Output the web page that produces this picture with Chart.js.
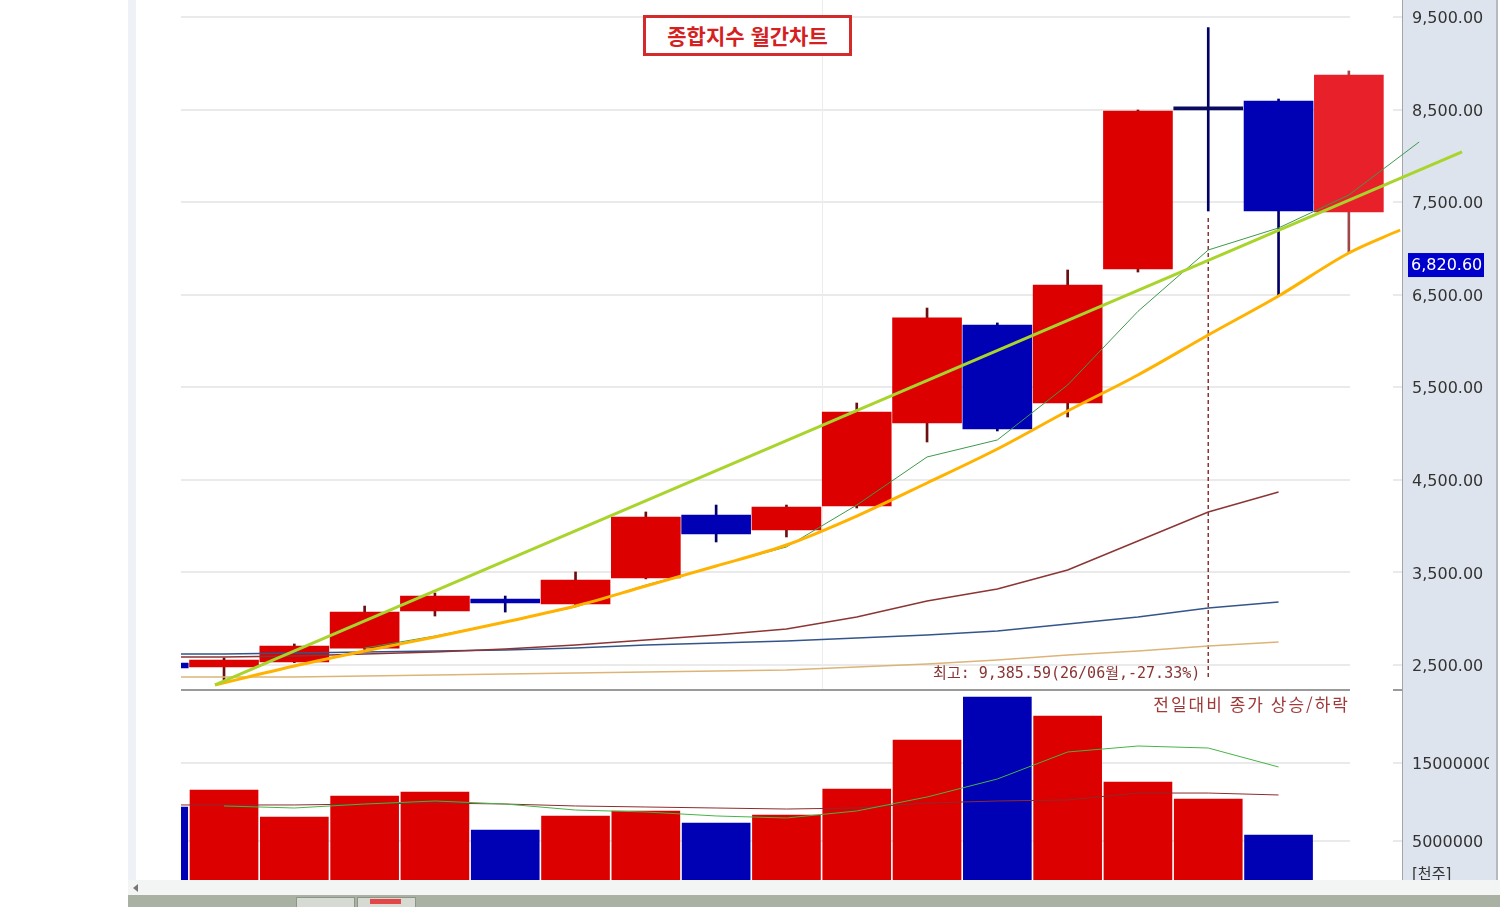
<!DOCTYPE html>
<html lang="ko">
<head>
  <meta charset="UTF-8" />
  <title>종합지수 월간차트</title>
  <script src="https://cdn.jsdelivr.net/npm/chart.js@4"></script>
  <style>
    body { margin: 0; background: #fff; }
    .tela { position: relative; width: 1508px; height: 907px; overflow: hidden; }
    .faixa-esq { position: absolute; left: 128px; top: 0; width: 8px; height: 880px; background: #eef1f5; }
    .painel-eixo {
      position: absolute; left: 1402px; top: 0; width: 93px; height: 880px;
      background: #dde4ed; border-left: 1px solid #a2a6aa; border-right: 2px solid #b6babe;
    }
    canvas { position: absolute; left: 0; }
    #graficoPreco { top: 0; }
    #graficoVolume { top: 690px; }
    .divisor { position: absolute; left: 181px; top: 689px; width: 1169px; height: 2px; background: #9a9a9a; }
    .divisor-tick { position: absolute; left: 1393px; top: 689px; width: 9px; height: 2px; background: #9a9a9a; }
    .titulo {
      position: absolute; left: 643px; top: 15px; width: 203px; height: 35px;
      border: 3px solid #d42a2a; background: #fff;
      font: bold 21px "Noto Sans CJK KR", sans-serif; color: #d42020;
      text-align: center; line-height: 35px;
    }
    .rodape { position: absolute; left: 128px; top: 880px; width: 1372px; height: 15px; background: #f3f4f4; }
    .seta { position: absolute; left: 133px; top: 884px; width: 0; height: 0;
      border-top: 4px solid transparent; border-bottom: 4px solid transparent; border-right: 5px solid #777; }
    .barra { position: absolute; left: 128px; top: 895px; width: 1372px; height: 12px; background: #a9b1a3; }
    .aba { position: absolute; top: 897px; width: 57px; height: 10px; background: #d6dad2; border: 1px solid #8d9488; border-bottom: none; }
    .aba-vermelha { position: absolute; left: 370px; top: 899px; width: 31px; height: 5px; background: #e24646; }
  </style>
</head>
<body>
  <div class="tela">
    <div class="faixa-esq"></div>
    <div class="painel-eixo"></div>
    <canvas id="graficoPreco" width="1489" height="690"></canvas>
    <canvas id="graficoVolume" width="1489" height="190"></canvas>
    <div class="divisor"></div>
    <div class="divisor-tick"></div>
    <div class="titulo">종합지수 월간차트</div>
    <div class="rodape"></div>
    <div class="seta"></div>
    <div class="barra"></div>
    <div class="aba" style="left:296px"></div>
    <div class="aba" style="left:357px"></div>
    <div class="aba-vermelha"></div>
  </div>

  <script>
    // meses (26/06 = topo anotado)
    const months = ['25/03','25/04','25/05','25/06','25/07','25/08','25/09','25/10','25/11',
                    '25/12','26/01','26/02','26/03','26/04','26/05','26/06','26/07','26/08'];
    const opens  = [2521, 2478, 2532, 2683, 3083, 3213, 3159, 3440, 4120, 3958, 4218, 5114, 6173, 5330, 6778, 8496, 8593, 7394];
    const highs  = [2530, 2576, 2727, 3137, 3278, 3245, 3505, 4153, 4228, 4228, 5330, 6356, 6195, 6767, 8495, 9385.59, 8614, 8917];
    const lows   = [2460, 2306, 2525, 2662, 3029, 3072, 3137, 3430, 3829, 3883, 4196, 4909, 5028, 5179, 6745, 7404, 6486, 6950];
    const closes = [2468, 2554, 2705, 3072, 3245, 3170, 3418, 4099, 3915, 4207, 5233, 6249, 5050, 6605, 8485, 8496, 7404, 8873];

    // medias moveis (indice 18 = prolongamento da curta)
    const ma5   = [null, null, null, 2683, 2813, 2964, 3127, 3364, 3569, 3775, 4228, 4747, 4931, 5525, 6320, 6983, 7221, 7577, 8150];
    const ma20  = [2586, 2586, 2597, 2619, 2640, 2673, 2716, 2770, 2824, 2889, 3018, 3191, 3321, 3526, 3840, 4153, 4369];
    const ma60  = [2619, 2619, 2629, 2640, 2651, 2662, 2683, 2716, 2738, 2759, 2792, 2824, 2867, 2943, 3018, 3116, 3181];
    const ma120 = [2370, 2370, 2370, 2381, 2392, 2403, 2413, 2424, 2435, 2446, 2478, 2511, 2554, 2608, 2651, 2705, 2748];

    // linhas de tendencia desenhadas
    const trendUpX = [0.872, 18.61];
    const trendUpY = [2284, 8042];
    const supportX = [0.872, 2, 3, 4, 5, 6, 7, 8, 9, 10, 11, 12, 13, 14, 15, 16, 17, 17.73];
    const supportY = [2284, 2489, 2651, 2802, 2965, 3137, 3353, 3569, 3796, 4109, 4466, 4833, 5244, 5633, 6065, 6486, 6951, 7199];

    const highMarkIndex = 15;
    const highMarkRange = [7330, 2340];
    const highMarkText = '최고: 9,385.59(26/06월,-27.33%)';
    const currentPrice = 6820.60;
    const liveIndex = 17;

    // volume [천주]
    const volumes = [9360000, 11540000, 8080000, 10770000, 11280000, 6410000, 8210000, 8850000, 7310000,
                     8330000, 11670000, 17950000, 23460000, 21030000, 12560000, 10380000, 5770000, null];
    const volMa5  = [null, 9490000, 9230000, 9740000, 10130000, 9740000, 8970000, 8720000, 8210000,
                     7950000, 8850000, 10640000, 12950000, 16410000, 17180000, 16920000, 14490000];
    const volMa20 = [9620000, 9620000, 9620000, 9740000, 9870000, 9740000, 9490000, 9360000, 9230000,
                     9100000, 9230000, 9870000, 10130000, 10260000, 11150000, 11150000, 10900000];

    const priceTicks = [2500, 3500, 4500, 5500, 6500, 7500, 8500, 9500];
    const volumeTicks = [5000000, 15000000];
    const volumeTitle = '전일대비 종가 상승/하락';
    const volumeUnit = '[천주]';

    const RED = '#dc0000', BLUE = '#0000b4';

    const pts = arr => arr.map((v, i) => ({ x: i, y: v })).filter(p => p.y !== null);
    const xy = (xs, ys) => xs.map((x, i) => ({ x, y: ys[i] }));

    const bodyColors = months.map((m, i) => i === liveIndex ? '#e8202a'
      : closes[i] > opens[i] ? RED : closes[i] < opens[i] ? BLUE : '#0a0a60');
    const wickColors = months.map((m, i) => i === liveIndex ? '#a04848'
      : closes[i] > opens[i] ? '#6a1010' : '#000066');
    const volColors = months.map((m, i) => {
      const ref = i === 0 ? opens[0] : closes[i - 1];
      return closes[i] >= ref ? RED : BLUE;
    });

    const axisFont = { family: 'DejaVu Sans', size: 16 };

    const gradePainel = {
      id: 'gradePainel',
      beforeDatasetsDraw(chart, args, opts) {
        const { ctx, chartArea: a, scales: { x, y } } = chart;
        ctx.save();
        ctx.strokeStyle = '#e4e4e4';
        ctx.lineWidth = 1.5;
        y.ticks.forEach(t => {
          const py = Math.round(y.getPixelForValue(t.value));
          ctx.beginPath();
          ctx.moveTo(a.left, py); ctx.lineTo(a.right - 52, py);
          ctx.moveTo(a.right - 9, py); ctx.lineTo(a.right, py);
          ctx.stroke();
        });
        if (opts.divider != null) {
          const px = Math.round(x.getPixelForValue(opts.divider)) + 0.5;
          ctx.strokeStyle = '#ececec';
          ctx.lineWidth = 1;
          ctx.beginPath(); ctx.moveTo(px, a.top); ctx.lineTo(px, a.bottom); ctx.stroke();
        }
        ctx.restore();
      }
    };

    const anotacoesPreco = {
      id: 'anotacoesPreco',
      afterDraw(chart) {
        const { ctx, chartArea: a, scales: { x, y } } = chart;
        ctx.save();
        // texto do topo
        ctx.font = "15px 'DejaVu Sans Mono', 'Noto Sans CJK KR'";
        ctx.fillStyle = '#8a3434';
        ctx.textAlign = 'right';
        ctx.textBaseline = 'middle';
        ctx.fillText(highMarkText, x.getPixelForValue(highMarkIndex) - 8, y.getPixelForValue(2400));
        // preco atual
        const py = y.getPixelForValue(currentPrice);
        ctx.fillStyle = '#0000cc';
        ctx.fillRect(a.right + 6, py - 12, 76, 24);
        ctx.fillStyle = '#ffffff';
        ctx.textAlign = 'left';
        ctx.font = '16px "DejaVu Sans"';
        ctx.fillText(currentPrice.toLocaleString('en-US', { minimumFractionDigits: 2 }), a.right + 9, py + 1);
        ctx.restore();
      }
    };

    const anotacoesVolume = {
      id: 'anotacoesVolume',
      afterDraw(chart) {
        const { ctx, chartArea: a } = chart;
        ctx.save();
        ctx.font = "17px 'Noto Sans CJK KR'";
        ctx.letterSpacing = '2px';
        ctx.fillStyle = '#a03a3a';
        ctx.textAlign = 'right';
        ctx.textBaseline = 'middle';
        ctx.fillText(volumeTitle, a.right - 52, 15);
        ctx.letterSpacing = '0px';
        ctx.fillStyle = '#333';
        ctx.textAlign = 'left';
        ctx.font = "15px 'DejaVu Sans', 'Noto Sans CJK KR'";
        ctx.fillText(volumeUnit, a.right + 10, 185);
        ctx.restore();
      }
    };

    const linha = (data, color, width, extra) => Object.assign({
      type: 'line', data, borderColor: color, borderWidth: width,
      pointRadius: 0, tension: 0, fill: false
    }, extra || {});

    const xScale = { type: 'linear', min: 0.388, max: 17.756, offset: false, display: false };

    new Chart(document.getElementById('graficoPreco'), {
      type: 'bar',
      data: {
        datasets: [
          linha(xy(trendUpX, trendUpY), '#a8d42c', 3, { order: 0, clip: false }),
          linha(xy(supportX, supportY), '#ffb300', 3, { order: 0, cubicInterpolationMode: 'monotone' }),
          linha(pts(ma5), '#3d9a4a', 1, { order: 1, clip: false }),
          linha(pts(ma20), '#8c3535', 1.5, { order: 1 }),
          linha(pts(ma60), '#34558a', 1.5, { order: 1 }),
          linha(pts(ma120), '#dcb478', 1.5, { order: 1 }),
          linha(highMarkRange.map(v => ({ x: highMarkIndex, y: v })), '#8a3434', 1.5, { order: 2, borderDash: [4, 3] }),
          {
            label: '몸통',
            data: months.map((m, i) => ({ x: i, y: [opens[i], closes[i]] })),
            backgroundColor: bodyColors,
            barThickness: 69, grouped: false, minBarLength: 3, order: 5
          },
          {
            label: '꼬리',
            data: months.map((m, i) => ({ x: i, y: [lows[i], highs[i]] })),
            backgroundColor: wickColors,
            barThickness: 2, grouped: false, order: 6
          }
        ]
      },
      options: {
        responsive: false,
        animation: false,
        layout: { padding: { left: 181, right: 0, top: 0, bottom: 0 } },
        plugins: { legend: { display: false }, tooltip: { enabled: false }, gradePainel: { divider: 9.5 } },
        scales: {
          x: xScale,
          y: {
            position: 'right', min: 2229.9, max: 9683.6,
            grid: { display: false, drawTicks: false }, border: { display: false },
            ticks: {
              padding: 10, labelOffset: 2, color: '#333', font: axisFont,
              callback: v => v.toLocaleString('en-US', { minimumFractionDigits: 2, maximumFractionDigits: 2 })
            },
            afterBuildTicks: s => { s.ticks = priceTicks.map(v => ({ value: v })); },
            afterFit: s => { s.width = 87; s.paddingTop = 0; s.paddingBottom = 0; }
          }
        }
      },
      plugins: [gradePainel, anotacoesPreco]
    });

    new Chart(document.getElementById('graficoVolume'), {
      type: 'bar',
      data: {
        datasets: [
          linha(pts(volMa5), '#46b446', 1, { order: 0 }),
          linha(pts(volMa20), '#8c2c2c', 1, { order: 0 }),
          {
            label: '거래량',
            data: pts(volumes),
            backgroundColor: volColors,
            barThickness: 68, grouped: false, order: 5
          }
        ]
      },
      options: {
        responsive: false,
        animation: false,
        layout: { padding: { left: 181, right: 0, top: 0, bottom: 0 } },
        plugins: { legend: { display: false }, tooltip: { enabled: false }, gradePainel: {} },
        scales: {
          x: xScale,
          y: {
            position: 'right', min: 0, max: 24360000,
            grid: { display: false, drawTicks: false }, border: { display: false },
            ticks: { padding: 10, labelOffset: 2, color: '#333', font: axisFont, callback: v => String(v) },
            afterBuildTicks: s => { s.ticks = volumeTicks.map(v => ({ value: v })); },
            afterFit: s => { s.width = 87; s.paddingTop = 0; s.paddingBottom = 0; }
          }
        }
      },
      plugins: [gradePainel, anotacoesVolume]
    });
  </script>
</body>
</html>
